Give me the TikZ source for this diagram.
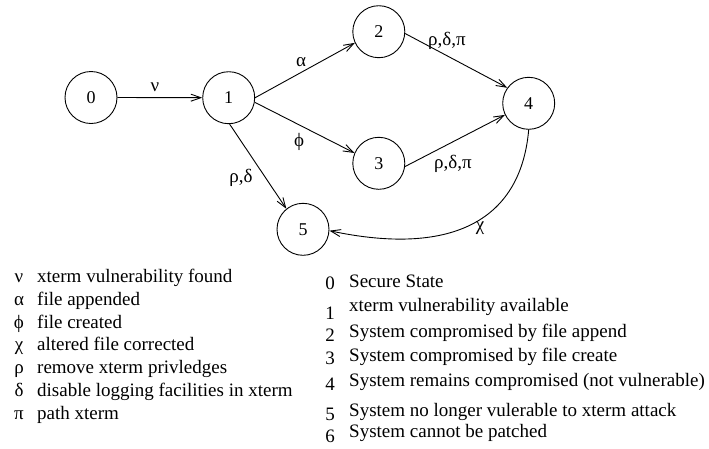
\documentclass[tikz,border=0pt]{standalone}
\usepackage{fontspec}
\setmainfont{Liberation Serif}
\usetikzlibrary{arrows.meta}
\begin{document}
\begin{tikzpicture}[x=1pt,y=1pt,
  state/.style={circle,draw,line width=0.9pt,minimum size=52pt,inner sep=0pt,
    font=\fontsize{18}{20}\selectfont},
  trans/.style={line width=0.9pt,
    -{Straight Barb[length=10pt,width=7pt,line width=0.9pt]}},
  lbl/.style={font=\fontsize{19}{22}\selectfont,inner sep=0pt},
  legtext/.style={anchor=base west,font=\fontsize{19}{22}\selectfont,inner sep=0pt},
  legsym/.style={anchor=base,font=\fontsize{19}{22}\selectfont,inner sep=0pt},
]
\useasboundingbox (0,0) rectangle (709,-448);

% states
\node[state] (n0) at (91,-97.5) {0};
\node[state] (n1) at (228.7,-97.7) {1};
\node[state] (n2) at (378.8,-31.7) {2};
\node[state] (n3) at (378.8,-163.3) {3};
\node[state] (n4) at (528.7,-103.3) {4};
\node[state] (n5) at (303,-229.3) {5};

% transitions
\draw[trans] (n0.east) -- (n1.west);
\draw[trans] (n1.east) -- (n2.205);
\draw[trans] (n1.-10) -- (n3.157);
\draw[trans] (n1.-88) -- (n5.129);
\draw[trans] (n2.-4) -- (n4.144);
\draw[trans] (n3.-7) -- (n4.206);
\draw[trans] (n4.-90) to[out=-95,in=-12,out distance=95pt,in distance=120pt] (n5.-3);

% transition labels
\node[lbl] (lnu) at (155,-87) {ν};
\node[lbl] (lal) at (301,-62) {α};
\node[lbl] (lph) at (299,-142) {ϕ};
\node[lbl] (lrd) at (241,-178) {ρ,δ};
\node[lbl] (lrdp1) at (447,-41) {ρ,δ,π};
\node[lbl] (lrdp2) at (453,-164) {ρ,δ,π};
\node[lbl] (lch) at (480,-228) {χ};

% key to the transitions
\node[legsym] (s1) at (19,-282.5) {ν};
\node[legsym] (s2) at (19,-305.3) {α};
\node[legsym] (s3) at (19,-328.1) {ϕ};
\node[legsym] (s4) at (19,-350.9) {χ};
\node[legsym] (s5) at (19,-373.7) {ρ};
\node[legsym] (s6) at (19,-396.5) {δ};
\node[legsym] (s7) at (19,-419.3) {π};
\node[legtext] (t1) at (37,-282.5) {xterm vulnerability found};
\node[legtext] (t2) at (37,-305.3) {file appended};
\node[legtext] (t3) at (37,-328.1) {file created};
\node[legtext] (t4) at (37,-350.9) {altered file corrected};
\node[legtext] (t5) at (37,-373.7) {remove xterm privledges};
\node[legtext] (t6) at (37,-396.5) {disable logging facilities in xterm};
\node[legtext] (t7) at (37,-419.3) {path xterm};

% key to the states
\node[legsym] (d0) at (330,-289) {0};
\node[legsym] (d1) at (330,-319) {1};
\node[legsym] (d2) at (330,-341) {2};
\node[legsym] (d3) at (330,-364) {3};
\node[legsym] (d4) at (330,-390) {4};
\node[legsym] (d5) at (330,-420) {5};
\node[legsym] (d6) at (330,-442) {6};
\node[legtext] (u0) at (349,-287.5) {Secure State};
\node[legtext] (u1) at (349,-311) {xterm vulnerability available};
\node[legtext] (u2) at (349,-337) {System compromised by file append};
\node[legtext] (u3) at (349,-361) {System compromised by file create};
\node[legtext] (u4) at (349,-386) {System remains compromised (not vulnerable)};
\node[legtext] (u5) at (349,-416) {System no longer vulerable to xterm attack};
\node[legtext] (u6) at (349,-437) {System cannot be patched};
\end{tikzpicture}
\end{document}
